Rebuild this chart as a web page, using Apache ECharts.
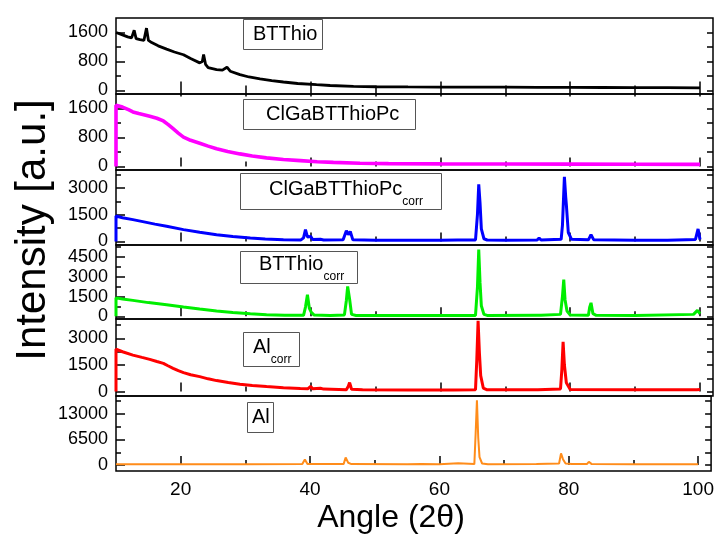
<!DOCTYPE html>
<html>
<head>
<meta charset="utf-8">
<script src="https://cdn.jsdelivr.net/npm/echarts@6/dist/echarts.min.js"></script>
<style>
html, body { margin: 0; padding: 0; background: #fff; }
#chart { width: 717px; height: 535px; }
</style>
</head>
<body>
<div id="chart"></div>
<script>
// [angle 2theta, intensity]
var btthio = [[10,1600],[10.6,1560],[11.2,1520],[11.8,1480],[12.4,1450],[12.8,1660],[13.1,1430],[13.7,1400],[14.3,1380],[14.7,1720],[15.0,1380],[15.5,1320],[16.5,1230],[17.8,1140],[19,1060],[20.4,985],[21.5,880],[22.9,760],[23.3,800],[23.5,990],[23.8,720],[24.2,630],[25.5,575],[26.4,560],[27.1,640],[27.6,530],[29.1,435],[30.5,370],[32.2,315],[34,270],[35.8,232],[38,190],[40.9,157],[43,135],[46.6,110],[50,100],[55,95],[60,92],[65,90],[70,88],[75,85],[80,82],[85,80],[90,78],[95,75],[100,72]];
var clgaPc = [[10,0],[10,1690],[11,1640],[12,1560],[12.6,1505],[13.5,1460],[15.2,1385],[16.3,1330],[17.3,1255],[18.0,1160],[18.8,1040],[19.6,920],[20.4,810],[21.5,720],[22.9,640],[24.2,560],[25.5,485],[27.2,410],[29.1,345],[31,285],[33.2,235],[35.8,190],[38.4,160],[41,130],[43.5,110],[47.6,85],[52,75],[60,68],[70,65],[80,62],[90,58],[100,55]];
var clgaPcCorr = [[10,0],[10,1420],[11,1330],[12.6,1220],[14.5,1080],[16,970],[17.8,845],[20.4,660],[22.9,510],[25.5,380],[28,270],[30.7,190],[33,140],[35.8,100],[38.5,85],[38.9,200],[39.2,660],[39.5,250],[40.0,280],[40.3,110],[41.5,120],[42,80],[45,90],[45.5,600],[45.8,380],[46.1,560],[46.5,90],[50,70],[55,65],[60,65],[62.6,80],[62.9,190],[63.2,80],[65.4,80],[65.7,1500],[65.9,3200],[66.1,2150],[66.3,700],[66.7,150],[67.2,80],[70,65],[74.9,75],[75.2,190],[75.5,75],[78.6,120],[78.8,900],[79.1,3620],[79.3,2500],[79.4,2060],[79.7,500],[80.2,120],[82.8,90],[83.2,380],[83.6,100],[90,70],[95,70],[99.3,110],[99.7,700],[99.8,750],[100,100]];
var btthioCorr = [[10,0],[10,1400],[11,1320],[12.6,1210],[15,1040],[17.8,880],[20.4,700],[22.9,550],[25.5,410],[28,300],[30.7,200],[33.2,130],[36,90],[38.9,80],[39.2,700],[39.5,1640],[39.8,600],[40.1,300],[40.5,110],[43,70],[45.2,110],[45.5,1200],[45.7,2270],[46.0,1300],[46.3,150],[47,70],[55,60],[62.6,70],[62.9,200],[63.2,70],[65.4,70],[65.7,2200],[65.9,5050],[66.1,2530],[66.3,800],[66.7,150],[67.2,70],[75,90],[75.2,130],[75.5,80],[78.5,150],[78.8,1500],[79.0,2780],[79.2,1260],[79.5,400],[80,100],[82.8,80],[83.0,700],[83.2,1020],[83.5,200],[84,80],[90,70],[99,150],[99.6,450],[99.9,510],[100,200]];
var alCorr = [[10,0],[10,2400],[11,2250],[12.6,2060],[14,1930],[15.2,1820],[16.3,1700],[17.3,1595],[18.0,1460],[18.8,1315],[19.6,1180],[20.4,1070],[21.5,950],[22.9,845],[24.2,720],[25.5,620],[27.3,510],[29.1,415],[31,340],[33.2,280],[35.8,215],[38.4,170],[39.6,160],[40.0,290],[40.3,160],[41.5,190],[42,140],[45.5,110],[45.8,300],[46.0,510],[46.3,130],[48,100],[55,95],[62,95],[65.4,100],[65.6,1800],[65.8,4000],[66.0,2200],[66.2,900],[66.6,200],[67.2,100],[75,100],[78.5,150],[78.7,1200],[78.9,2810],[79.1,1500],[79.4,500],[80,120],[90,100],[99.5,110],[99.8,200],[100,120]];
var al = [[10,200],[20,200],[30,200],[38.8,250],[39.2,1440],[39.6,300],[40.2,250],[45.2,300],[45.5,1940],[45.9,600],[46.4,250],[55,200],[57.2,300],[60,200],[62.9,450],[63.2,200],[65.4,250],[65.6,8000],[65.8,16400],[66.0,7000],[66.2,2000],[66.6,400],[67.5,200],[75,250],[78.5,400],[78.8,2950],[79.1,1500],[79.5,400],[80.5,250],[82.8,250],[83.1,830],[83.5,300],[90,200],[100,200]];

var xLabels = [20, 40, 60, 80, 100];
var xMinor = [30, 50, 70, 90];
var xTop = [20, 30, 40, 50, 60, 70, 80, 90, 100];
var yMajor = [[0,800,1600],[0,800,1600],[0,1500,3000],[0,1500,3000,4500],[0,1500,3000],[0,6500,13000]];
var yMinor = [[400,1200],[400,1200],[750,2250,3750],[750,2250,3750,5250],[750,2250,3750],[3250,9750,16250]];
var yMin = [-100, -100, -200, -200, -250, -1500];
var yMax = [2000, 2000, 4000, 5400, 4100, 17500];

var names = ['BTThio', 'ClGaBTThioPc', 'ClGaBTThioPc_corr', 'BTThio_corr', 'Al_corr', 'Al'];
var colors = ['#000000', '#ff00ff', '#0000ff', '#00ee00', '#ff0000', '#ff8c1a'];
var widths = [2.8, 3.6, 3, 3, 3, 2];
var seriesData = [btthio, clgaPc, clgaPcCorr, btthioCorr, alCorr, al];

var font = 'Liberation Sans, Arial, sans-serif';
var tops = [18, 94, 170, 245, 319, 396];
var bottoms = [94, 170, 245, 319, 396, 471];

function plain(v) { return String(v); }

var grids = [], xAxes = [], yAxes = [], series = [];
for (var i = 0; i < 6; i++) {
	grids.push({
		left: 116, width: 597, top: tops[i], height: bottoms[i] - tops[i],
		show: true, borderColor: '#000', borderWidth: 1.5, backgroundColor: 'transparent'
	});
	var xi = xAxes.length;
	xAxes.push({
		gridIndex: i, type: 'value', min: 10, max: 102, position: 'bottom',
		axisLine: { show: false }, splitLine: { show: false },
		axisTick: { inside: true, length: 9, customValues: xLabels, lineStyle: { color: '#000', width: 1.5 } },
		axisLabel: { show: i === 5, customValues: xLabels, formatter: plain, fontSize: 19, margin: 9, color: '#000', fontFamily: font }
	});
	xAxes.push({
		gridIndex: i, type: 'value', min: 10, max: 102, position: 'bottom',
		axisLine: { show: false }, splitLine: { show: false }, axisLabel: { show: false },
		axisTick: { inside: true, length: 5, customValues: xMinor, lineStyle: { color: '#000', width: 1.5 } }
	});
	if (i === 0) {
		xAxes.push({
			gridIndex: i, type: 'value', min: 10, max: 102, position: 'top',
			axisLine: { show: false }, splitLine: { show: false }, axisLabel: { show: false },
			axisTick: { inside: true, length: 6, customValues: xTop, lineStyle: { color: '#000', width: 1.5 } }
		});
	}
	var yi = yAxes.length;
	yAxes.push({
		gridIndex: i, type: 'value', min: yMin[i], max: yMax[i], position: 'left',
		axisLine: { show: false }, splitLine: { show: false },
		axisTick: { inside: true, length: 9, customValues: yMajor[i], lineStyle: { color: '#000', width: 1.5 } },
		axisLabel: { customValues: yMajor[i], formatter: plain, fontSize: 18, margin: 8, color: '#000', fontFamily: font }
	});
	yAxes.push({
		gridIndex: i, type: 'value', min: yMin[i], max: yMax[i], position: 'left',
		axisLine: { show: false }, splitLine: { show: false }, axisLabel: { show: false },
		axisTick: { inside: true, length: 5, customValues: yMinor[i], lineStyle: { color: '#000', width: 1.5 } }
	});
	yAxes.push({
		gridIndex: i, type: 'value', min: yMin[i], max: yMax[i], position: 'right',
		axisLine: { show: false }, splitLine: { show: false }, axisLabel: { show: false },
		axisTick: { inside: true, length: 6, customValues: yMajor[i].concat(yMinor[i]), lineStyle: { color: '#000', width: 1.5 } }
	});
	series.push({
		name: names[i], type: 'line', xAxisIndex: xi, yAxisIndex: yi,
		data: seriesData[i], showSymbol: false, symbol: 'none',
		lineStyle: { color: colors[i], width: widths[i] },
		itemStyle: { color: colors[i] }
	});
}

var boxText = { fontSize: 20, fontWeight: 'normal', color: '#000', fontFamily: font, lineHeight: 21,
	rich: {
		a: { fontSize: 20, lineHeight: 22, verticalAlign: 'top', color: '#000', fontFamily: font },
		b: { fontSize: 12, lineHeight: 14, verticalAlign: 'top', padding: [17, 0, 0, 0], color: '#000', fontFamily: font }
	}
};
function box(text, left, top, padding) {
	return { text: text, left: left, top: top, padding: padding, borderColor: '#555', borderWidth: 1,
		backgroundColor: '#fff', textStyle: boxText };
}

var option = {
	animation: false,
	grid: grids,
	xAxis: xAxes,
	yAxis: yAxes,
	series: series,
	title: [
		box('BTThio', 243, 19, [5, 5, 5, 10]),
		box('ClGaBTThioPc', 243, 99, [5, 16, 5, 23]),
		box('{a|ClGaBTThioPc}{b|corr}', 240, 173, [6, 19, 2, 29]),
		box('{a|BTThio}{b|corr}', 240, 251, [3, 14, 1, 19]),
		box('{a|Al}{b|corr}', 243, 332, [5, 8, 1, 10]),
		box('Al', 247, 402, [5, 4, 5, 5])
	],
	graphic: [
		{ type: 'text', x: 33, y: 230, rotation: Math.PI / 2,
			style: { text: 'Intensity [a.u.]', font: '42px ' + font, fill: '#000',
				textAlign: 'center', textVerticalAlign: 'middle', align: 'center', verticalAlign: 'middle' } },
		{ type: 'text', x: 391, y: 518,
			style: { text: 'Angle (2\u03b8)', font: '32px ' + font, fill: '#000',
				textAlign: 'center', textVerticalAlign: 'middle', align: 'center', verticalAlign: 'middle' } }
	]
};

var chart = echarts.init(document.getElementById('chart'));
chart.setOption(option);
</script>
</body>
</html>
